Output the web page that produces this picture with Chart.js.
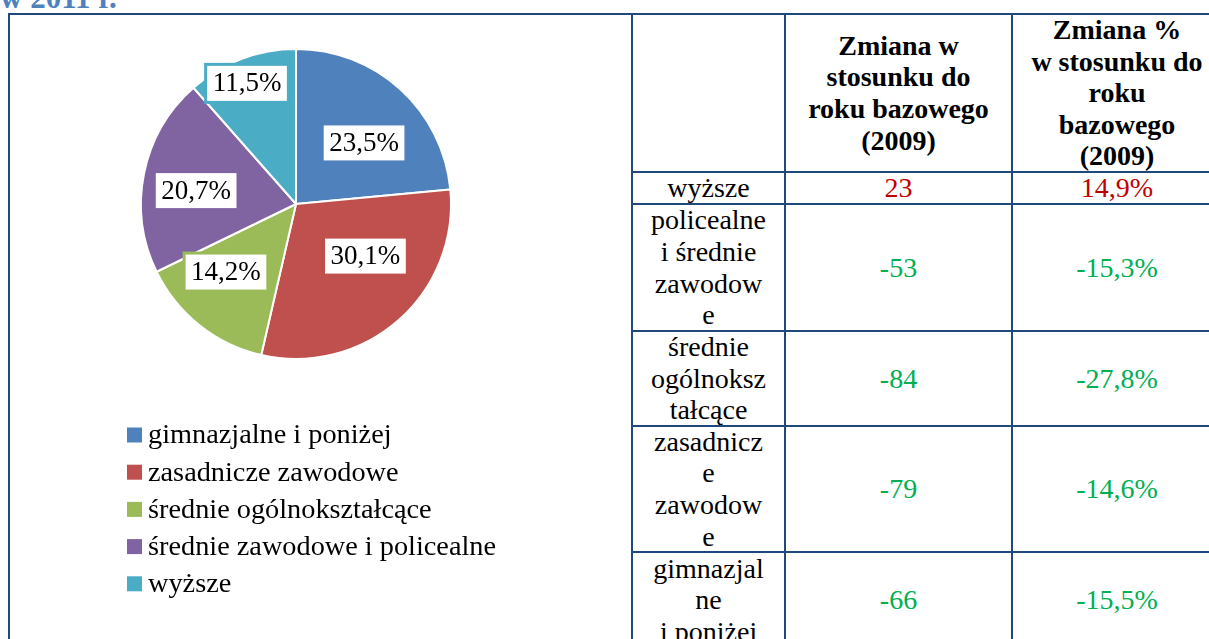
<!DOCTYPE html>
<html>
<head>
<meta charset="utf-8">
<script src="https://cdn.jsdelivr.net/npm/chart.js@4"></script>
<style>
body{margin:0;background:#fff;width:1209px;height:639px;overflow:hidden;position:relative;font-family:"Liberation Serif",serif}
#title{position:absolute;left:0;top:-17px;font:bold 31px/30px "Liberation Serif",serif;color:#4F81BD;white-space:nowrap}
.line{position:absolute;background:#1F497D}
#pie{position:absolute;left:0;top:0}
.cell{position:absolute;box-sizing:border-box;border:2px solid #1F497D;display:flex;align-items:center;justify-content:center;text-align:center;font-size:28px;line-height:31.6px;color:#000}
.head{font-weight:bold}
.up{color:#C00000}
.down{color:#00B050}
</style>
</head>
<body>
<div id="title">w 2011 r.</div>
<div class="line" style="left:8px;top:13px;width:1201px;height:2px"></div>
<div class="line" style="left:8px;top:13px;width:2px;height:626px"></div>
<canvas id="pie" width="620" height="639"></canvas>
<div id="tbl"></div>
<script>
// udział wykształcenia (pie)
const labels = ["gimnazjalne i poniżej", "zasadnicze zawodowe", "średnie ogólnokształcące", "średnie zawodowe i policealne", "wyższe"];
const shares = [23.5, 30.1, 14.2, 20.7, 11.5];
const colors = ["#4F81BD", "#C0504D", "#9BBB59", "#8064A2", "#4BACC6"];

// tabela zmian
const rowNames = ["wyższe", "policealne\ni średnie\nzawodow\ne", "średnie\nogólnoksz\ntałcące", "zasadnicz\ne\nzawodow\ne", "gimnazjal\nne\ni poniżej"];
const changeAbs = [23, -53, -84, -79, -66];
const changePct = [14.9, -15.3, -27.8, -14.6, -15.5];
const headers = ["", "Zmiana w\nstosunku do\nroku bazowego\n(2009)", "Zmiana %\nw stosunku do\nroku\nbazowego\n(2009)"];

function fmt(v){ return v.toFixed(1).replace('.', ','); }

const sliceLabels = {
  id: 'sliceLabels',
  afterDatasetsDraw(chart, args, opts){
    const ctx = chart.ctx;
    const meta = chart.getDatasetMeta(0);
    ctx.save();
    ctx.font = '27px "Liberation Serif"';
    ctx.textAlign = 'center';
    ctx.textBaseline = 'middle';
    meta.data.forEach((arc, i) => {
      const p = arc.getProps(['x','y','startAngle','endAngle','outerRadius'], true);
      const a = (p.startAngle + p.endAngle)/2 + opts.shift[i]*Math.PI/180;
      const r = p.outerRadius*opts.dist[i];
      const cx = p.x + Math.cos(a)*r, cy = p.y + Math.sin(a)*r;
      const txt = fmt(shares[i]) + '%';
      const w = ctx.measureText(txt).width + 14, h = 38;
      ctx.fillStyle = '#fff';
      ctx.fillRect(cx-w/2, cy-h/2, w, h);
      ctx.lineWidth = 3;
      ctx.strokeStyle = colors[i];
      ctx.strokeRect(cx-w/2, cy-h/2, w, h);
      ctx.fillStyle = '#000';
      ctx.fillText(txt, cx, cy+1);
    });
    ctx.restore();
  }
};

const listLegend = {
  id: 'listLegend',
  afterDraw(chart, args, opts){
    const ctx = chart.ctx;
    ctx.save();
    ctx.font = '28.3px "Liberation Serif"';
    ctx.textBaseline = 'middle';
    chart.data.labels.forEach((t, i) => {
      const y = opts.top + i*opts.step;
      ctx.fillStyle = chart.data.datasets[0].backgroundColor[i];
      ctx.fillRect(opts.x, y-7.5, 15, 15);
      ctx.fillStyle = '#000';
      ctx.fillText(t, opts.x + 21, y + 1);
    });
    ctx.restore();
  }
};

new Chart(document.getElementById('pie'), {
  type: 'pie',
  data: {
    labels: labels,
    datasets: [{
      data: shares,
      backgroundColor: colors,
      borderColor: '#fff',
      borderWidth: 2
    }]
  },
  options: {
    responsive: false,
    animation: false,
    layout: {padding: {left: 140, top: 48, right: 168, bottom: 279}},
    plugins: {
      legend: {display: false},
      tooltip: {enabled: false},
      sliceLabels: {dist: [0.59, 0.56, 0.63, 0.65, 0.84], shift: [5.8, -11.9, 7.3, -3.7, -1.4]},
      listLegend: {x: 127, top: 435, step: 37.2}
    }
  },
  plugins: [sliceLabels, listLegend]
});

// tabela
const colX = [632, 785, 1012, 1222];
const rowY = [14, 172, 204, 331, 426, 552, 648];
const tbl = document.getElementById('tbl');
function cell(c, r, html, cls){
  const d = document.createElement('div');
  d.className = 'cell ' + (cls || '');
  d.style.left = (colX[c]-1) + 'px';
  d.style.top = (rowY[r]-1) + 'px';
  d.style.width = (colX[c+1]-colX[c]+2) + 'px';
  d.style.height = (rowY[r+1]-rowY[r]+2) + 'px';
  d.innerHTML = '<span>' + html.split('\n').join('<br>') + '</span>';
  tbl.appendChild(d);
}
headers.forEach((h, c) => cell(c, 0, h, 'head'));
rowNames.forEach((n, i) => {
  const cls = changeAbs[i] > 0 ? 'up' : 'down';
  cell(0, i+1, n);
  cell(1, i+1, String(changeAbs[i]), cls);
  cell(2, i+1, fmt(changePct[i]) + '%', cls);
});
</script>
</body>
</html>
